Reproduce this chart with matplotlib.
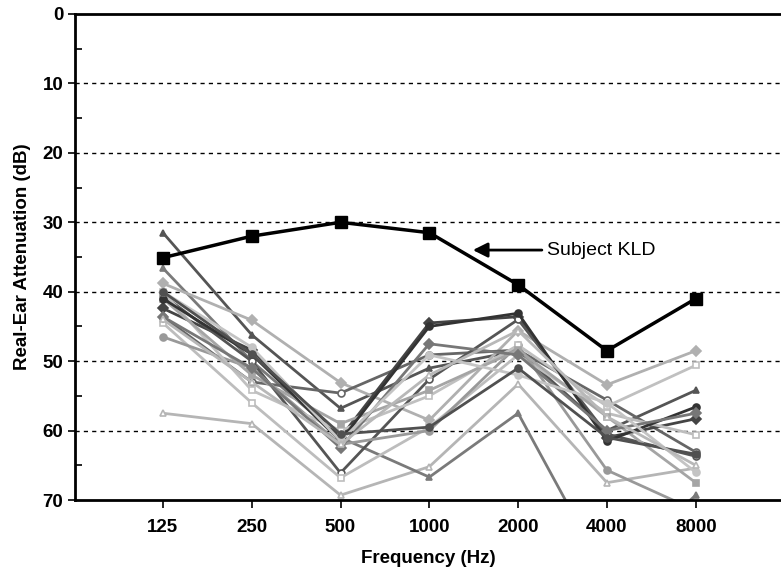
import matplotlib.pyplot as plt
from matplotlib.ticker import MultipleLocator

plt.rcParams["font.family"] = ["Liberation Sans", "DejaVu Sans"]

# Frequencies (Hz) shown as evenly spaced categories
freqs = ["125", "250", "500", "1000", "2000", "4000", "8000"]

# Subject KLD attenuation (dB)
kld = [35.1, 32.0, 30.0, 31.5, 39.0, 48.5, 41.0]

# Other subjects (dB)
s01 = [31.5, 46.2, 56.8, 51.0, 48.5, 60.0, 54.2]
s02 = [57.5, 59.0, 69.3, 65.2, 53.3, 67.5, 65.4]
s03 = [36.6, 50.0, 61.0, 66.7, 57.5, 81.0, 69.3]
s04 = [38.8, 44.1, 53.1, 58.5, 45.6, 53.4, 48.5]
s05 = [43.6, 53.0, 54.6, 49.1, 48.4, 55.6, 63.1]
s06 = [42.4, 48.4, 61.0, 44.5, 43.6, 61.0, 58.3]
s07 = [40.5, 50.0, 66.1, 52.6, 44.0, 60.5, 63.7]
s08 = [44.5, 56.0, 66.8, 59.5, 49.1, 57.5, 60.6]
s09 = [46.5, 51.0, 62.0, 60.0, 47.7, 65.7, 71.5]
s10 = [40.0, 54.2, 60.0, 55.0, 47.7, 56.5, 50.6]
s11 = [41.0, 52.0, 59.0, 54.2, 48.4, 58.0, 67.5]
s12 = [41.0, 49.0, 61.5, 45.0, 43.1, 61.5, 56.6]
s13 = [43.6, 51.0, 62.5, 47.5, 49.1, 60.0, 57.5]
s14 = [40.0, 48.0, 61.5, 49.1, 52.0, 56.0, 66.0]
s15 = [40.0, 49.0, 60.5, 59.5, 51.0, 61.0, 63.4]
s16 = [44.0, 53.0, 62.0, 52.0, 45.6, 58.0, 65.0]

subjects = [s01, s02, s03, s04, s05, s06, s07, s08,
            s09, s10, s11, s12, s13, s14, s15, s16]
colors = ["#555555", "#b5b5b5", "#7a7a7a", "#b0b0b0", "#666666", "#444444",
          "#555555", "#bdbdbd", "#999999", "#c0c0c0", "#a5a5a5", "#333333",
          "#777777", "#c4c4c4", "#505050", "#b8b8b8"]
markers = ["^", "^", "^", "D", "o", "D", "o", "s",
           "o", "s", "s", "o", "D", "o", "o", "^"]
hollow = [False, True, False, False, True, False, True, True,
          False, True, False, False, False, False, False, True]

fig = plt.figure(figsize=(7.81, 5.71), dpi=100)
ax = fig.add_axes([0.096, 0.1243, 0.904, 0.8512])

x = list(range(len(freqs)))

for vals, c, m, h in zip(subjects, colors, markers, hollow):
    ax.plot(x, vals, color=c, linewidth=2, marker=m, markersize=5,
            markerfacecolor="white" if h else c, markeredgecolor=c,
            markeredgewidth=1.2, zorder=2)

ax.plot(x, kld, color="black", linewidth=2.5, marker="s", markersize=9,
        zorder=4)

ax.annotate("Subject KLD", xy=(3.49, 34), xytext=(4.33, 34),
            fontsize=14, ha="left", va="center",
            arrowprops=dict(arrowstyle="-|>", color="black", lw=2,
                            mutation_scale=22, shrinkA=2, shrinkB=0))

ax.set_xlim(-0.99, 6.96)
ax.set_ylim(70, 0)
ax.set_xticks(x)
ax.set_xticklabels(freqs)
ax.yaxis.set_major_locator(MultipleLocator(10))
ax.yaxis.set_minor_locator(MultipleLocator(5))

for v in range(10, 70, 10):
    ax.axhline(v, color="black", linewidth=1, linestyle=(0, (3, 3)),
               zorder=1)

for side in ["left", "top", "bottom"]:
    ax.spines[side].set_linewidth(2)
ax.spines["right"].set_visible(False)

ax.tick_params(axis="y", which="major", direction="out", length=5,
               width=1.2, labelsize=13.5)
ax.tick_params(axis="y", which="minor", direction="in", length=5, width=1.2)
ax.tick_params(axis="x", direction="out", length=6, width=1.2,
               labelsize=13.5, pad=8)
for lab in ax.get_xticklabels() + ax.get_yticklabels():
    lab.set_fontweight("bold")

ax.set_xlabel("Frequency (Hz)", fontsize=13.5, fontweight="bold", labelpad=10)
ax.set_ylabel("Real-Ear Attenuation (dB)", fontsize=13.5, fontweight="bold",
              labelpad=8)

fig.savefig("out.png", dpi=100)
